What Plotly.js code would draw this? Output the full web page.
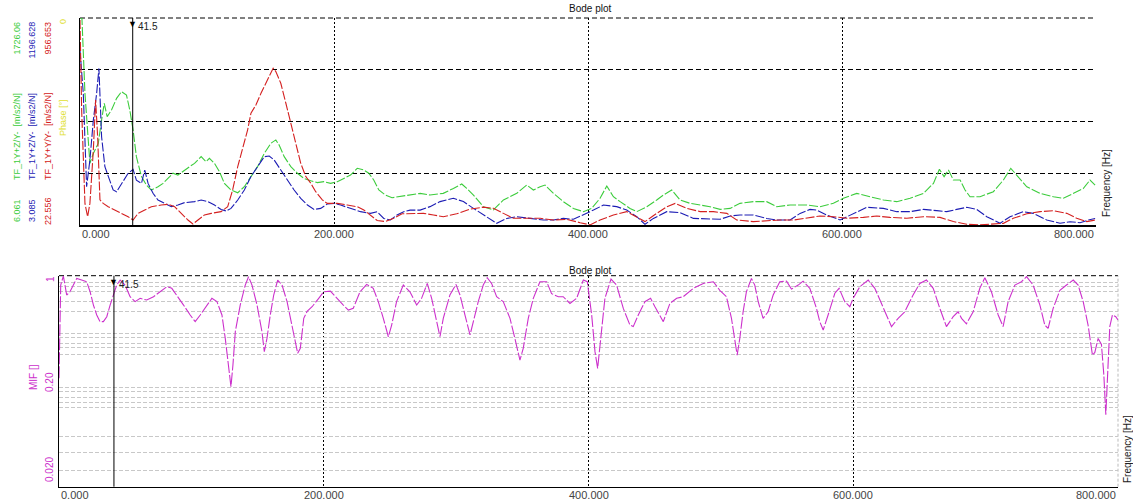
<!DOCTYPE html>
<html>
<head>
<meta charset="utf-8">
<script src="https://cdn.plot.ly/plotly-3.0.1.min.js"></script>
<style>html,body{margin:0;padding:0;background:#fff;}#chart{width:1133px;height:504px;}</style>
</head>
<body>
<div id="chart"></div>
<script>
// ---------- data ----------
const chartTitle = 'Bode plot';
const xTickVals = [0, 200, 400, 600, 800];
const xTickText = ['0.000', '200.000', '400.000', '600.000', '800.000'];
const xTitle = 'Frequency [Hz]';
const cursorHz = 41.5;

const greenName = 'TF_1Y+Z/Y-  [m/s2/N]';
const blueName = 'TF_1Y+Z/Y-  [m/s2/N]';
const redName = 'TF_1Y+Y/Y-  [m/s2/N]';
const phaseName = 'Phase [°]';
const greenRange = [6.061, 1726.06];
const blueRange = [3.085, 1196.628];
const redRange = [22.556, 956.653];
const greenRangeText = ['6.061', '1726.06'];
const blueRangeText = ['3.085', '1196.628'];
const redRangeText = ['22.556', '956.653'];

const freqGreen = [0,1.5,3.9,7.8,10.5,14.4,17.0,19.1,21.4,24.8,28.8,32.7,36.6,39.2,41.8,44.4,48.4,52.3,56.2,61.4,65.4,69.3,73.2,77.1,82.3,86.3,90.2,95.4,99.3,101.9,105.9,109.8,113.7,118.9,124.2,129.4,134.6,139.8,145.1,150.3,154.2,156.8,160.8,166.0,171.2,176.4,181.7,186.9,192.1,197.4,202.6,207.8,213.0,218.3,223.5,227.4,231.3,235.3,240.5,245.7,250.9,
  259.9,267.8,275.6,286,294,300.6,304.5,309.8,317.6,325.5,333.4,343.9,351.8,357,362.3,366.2,372.8,380.6,388.5,396.4,402.9,409.5,414.8,420,425.3,433.1,438.4,446.3,454.1,459.4,465.9,472.5,480.4,488.3,496.1,504,511.9,
  519.7,530.2,540.7,548.6,559.1,572.2,582.7,593.2,601.1,611.6,622.1,632.6,643.1,653.6,664.1,672,676.7,680.4,683.8,687.7,693,696.9,700.8,708.7,719.2,727.1,732.9,737.6,745.5,756,766.5,774.3,782.2,790.1,795.3,799.3];
const tfGreen = [1726,1726,1100,518,601,685,878,1017,906,962,1058,1114,1086,962,796,574,408,338,297,324,352,393,436,421,463,491,518,574,532,560,518,449,352,297,274,324,408,491,601,685,713,670,574,491,436,393,374,358,366,352,366,393,421,477,463,436,380,297,255,233,241,
  255,269,255,269,310,347,310,255,158,131,214,269,338,297,324,338,269,200,144,117,144,228,330,241,200,144,117,158,214,255,297,214,186,172,158,136,144,
  186,200,200,158,172,172,158,186,228,269,241,214,200,228,269,352,469,408,463,380,380,297,241,241,283,380,477,421,324,269,241,228,269,310,380,338];

const freqBlue = [0,2.6,5.2,7.8,10.5,13.1,14.9,17.0,19.6,22.2,26.1,28.8,32.7,37.9,41.8,44.4,48.4,51.0,53.6,57.5,61.4,66.7,71.9,77.1,82.3,90.2,95.4,100.6,105.9,111.1,115.0,118.9,124.2,129.4,134.6,139.8,145.1,149.0,152.9,158.1,163.4,168.6,173.8,179.1,184.3,189.5,194.7,200.0,205.2,213.0,220.9,228.7,234.0,239.2,244.4,249.6,254.9,
  259.9,267.8,275.6,283.5,294,301.9,309.8,320.3,328.1,336,343.9,354.4,364.9,372.8,380.6,388.5,396.4,404.3,412.1,422.6,430.5,438.4,444.9,451.5,462,472.5,483,496.1,504,512,
  519.7,530.2,540.7,548.6,559.1,567,574.8,580.1,588,598.5,609,619.5,632.6,643.1,653.6,664.1,674.6,682.5,690.3,698.2,706.1,714,724.5,732.3,742.8,750.7,761.2,771.7,779.6,787.5,794,799.3];
const tfBlue = [1012,762,224,378,608,762,906,512,339,282,205,195,243,301,324,262,243,320,243,186,147,128,109,118,132,138,147,138,118,93,84,99,147,205,282,339,397,401,378,320,262,205,157,118,93,99,124,128,118,99,80,70,80,41,32,61,80,
  89,89,109,138,157,138,99,51,13,41,51,41,32,32,41,36,61,89,118,109,89,51,7,41,80,74,41,36,36,55,
  61,61,41,32,32,70,93,89,61,32,70,105,99,80,80,93,86,80,93,105,93,51,13,51,80,70,32,13,22,16,32,41];

const freqRed = [0,1.3,3.9,6.0,7.8,10.5,12.3,13.9,15.7,18.3,22.2,27.4,32.7,37.9,41.8,45.7,51.0,56.2,64.0,69.3,74.5,79.7,85.0,88.9,92.8,98.0,103.3,111.1,116.3,120.2,124.2,128.1,132.0,134.6,138.5,142.5,146.4,150.3,152.1,154.2,158.1,162.1,166.0,169.9,173.8,177.8,181.7,185.6,190.8,194.7,202.6,210.4,218.3,223.5,228.7,234.0,240.5,247.0,253.6,
  259.9,270.4,278.3,286.1,296.6,307.1,317.6,325.5,333.4,341.3,351.8,362.3,372.8,383.3,393.8,401.6,409.5,420,430.5,438.4,444.9,454.1,462,468.6,477.8,488.3,498.8,509.3,517.1,
  530.2,540.7,551.2,561.7,572.2,582.7,593.2,603.7,616.8,627.3,637.8,651,664.1,677.2,687.7,698.2,708.7,719.2,727.1,734.9,745.5,756,766.5,777,784.8,792.7,799.3];
const tfRed = [948,542,120,60,120,361,587,421,136,120,105,90,75,60,45,75,90,105,113,116,105,75,45,27,45,68,75,83,105,181,286,376,452,527,564,617,662,707,730,715,662,572,482,391,301,241,211,173,136,120,120,113,105,90,68,43,38,53,73,
  75,75,68,60,73,94,103,98,75,53,53,53,45,48,33,23,45,68,83,60,38,75,105,120,98,83,83,75,45,
  38,43,45,45,53,63,60,53,57,63,57,53,60,57,38,26,23,26,30,53,73,83,87,75,53,38,45];

const mifName = 'MIF []';
const mifTickText = ['1', '0.20', '0.020'];
const mifRange = [0.04, 1];
const mifMinorGrid = [0.908,0.842,0.780,0.670,0.575,0.417,0.387,0.358,0.332,0.2985,0.183,0.170,0.157,0.1455,0.133,0.0855,0.0669,0.0516];
const mifMajorGrid = [0.457];

const freqMif = [0,0.5,1.3,3.3,5.8,8.3,10.8,13.4,17.1,20.9,23.5,26.0,28.5,31.0,33.5,36.1,38.6,41.1,43.6,46.2,49.9,53.7,57.5,61.3,66.3,71.4,76.4,81.5,85.2,89.0,94.1,99.1,102.9,106.7,111.7,115.5,119.3,123.1,125.6,128.1,129.9,131.4,133.2,136.9,140.7,143.2,145.8,149.6,153.3,155.1,157.1,159.6,162.2,165.2,168.5,172.3,176.0,178.6,180.3,182.3,184.9,187.4,191.2,196.2,200.0,205.0,
  209.7,214.8,218.6,222.3,227.4,232.4,237.4,241.2,245,248.8,251.3,255,260.1,265.1,270.2,273.9,278.2,281.5,284.8,287.8,290.3,295.3,299.9,302.9,306.7,310.5,313,316.7,320.5,323.5,326.8,330.6,335.6,340.7,344.4,348.2,350.7,354.5,358.3,363.3,368.4,372.1,377.2,380.9,386,391,396.1,399.1,402.4,404.9,406.9,409.2,412.4,417,421.2,426.3,431.3,433.8,437.6,442.6,446.9,450.2,453.9,456.5,461.5,466.6,471.6,479.2,486.7,494.3,
  499.2,504.2,508,510.5,512.3,514.3,516.8,519.3,523.1,525.6,528.2,531.9,535.7,539.5,544.5,549.6,553.3,558.4,562.1,567.2,572.2,574.7,577.3,581,586.1,589.3,593.6,597.4,599.9,605,611.3,616.3,622.6,628.9,633.9,638.9,645.2,650.3,655.3,660.4,665.4,670.4,675.5,679.2,681.8,685.5,690.6,695.6,699.4,704.4,709.5,713.2,717,722.1,727.1,730.9,735.9,741,744.7,747.2,751,756.1,761.1,766.2,769.9,773.7,777.4,780.7,782.5,785,787.5,789.3,790.8,791.8,792.5,793.8,795.8,798.3,800];
const mif = [0.209,0.549,0.867,0.995,0.745,0.783,0.867,0.960,0.936,0.912,0.783,0.639,0.549,0.496,0.496,0.535,0.639,0.745,0.867,0.936,0.867,0.726,0.673,0.708,0.690,0.726,0.783,0.846,0.825,0.745,0.639,0.549,0.496,0.549,0.639,0.708,0.673,0.549,0.384,0.256,0.184,0.256,0.426,0.639,0.867,0.985,0.867,0.639,0.426,0.314,0.384,0.549,0.745,0.936,0.867,0.673,0.471,0.347,0.306,0.33,0.522,0.58,0.623,0.708,0.783,0.79,
  0.708,0.639,0.592,0.608,0.783,0.876,0.825,0.673,0.522,0.394,0.471,0.673,0.867,0.783,0.639,0.708,0.889,0.708,0.522,0.394,0.522,0.745,0.876,0.745,0.549,0.405,0.496,0.673,0.867,0.97,0.889,0.726,0.673,0.522,0.384,0.276,0.330,0.522,0.708,0.912,0.912,0.76,0.726,0.726,0.655,0.708,0.936,0.912,0.549,0.314,0.243,0.384,0.708,0.95,0.867,0.607,0.471,0.46,0.549,0.673,0.708,0.623,0.549,0.496,0.655,0.708,0.726,0.825,0.889,0.912,
  0.80,0.726,0.522,0.384,0.298,0.384,0.577,0.783,0.96,0.867,0.673,0.522,0.577,0.745,0.912,0.92,0.815,0.867,0.92,0.825,0.608,0.496,0.437,0.549,0.765,0.825,0.673,0.623,0.708,0.846,0.936,0.825,0.608,0.46,0.522,0.577,0.745,0.889,0.936,0.825,0.608,0.46,0.535,0.577,0.522,0.48,0.577,0.825,0.97,0.783,0.549,0.46,0.673,0.867,0.912,0.985,0.867,0.639,0.471,0.448,0.608,0.80,0.867,0.936,0.867,0.673,0.471,0.298,0.31,0.384,0.35,0.22,0.12,0.2,0.314,0.46,0.549,0.535,0.51];

// ---------- styling ----------
const W = 1133, H = 504;
const px = v => v / W;
const py = v => (H - v) / H;
const FONT = 'Liberation Sans, Arial, sans-serif';
const GREEN = '#3ccc3c', BLUE = '#1c1cb4', RED = '#d42020', YELLOW = '#e0e030', MAG = '#cc30cc';
const topDomX = [px(80), px(1096)], topDomY = [py(225), py(18)];
const botDomX = [px(59), px(1118)], botDomY = [py(486.7), py(275.7)];

function quarters(r) { const s = (r[1] - r[0]) / 4; return [r[0] + s, r[0] + 2 * s, r[0] + 3 * s]; }

const lineStyle = (c) => ({ color: c, width: 1.1, dash: '9px,2px' });

const traces = [
  { x: freqGreen, y: tfGreen, xaxis: 'x', yaxis: 'y', type: 'scatter', mode: 'lines', line: lineStyle(GREEN), name: greenName },
  { x: freqBlue, y: tfBlue, xaxis: 'x', yaxis: 'y2', type: 'scatter', mode: 'lines', line: lineStyle(BLUE), name: blueName },
  { x: freqRed, y: tfRed, xaxis: 'x', yaxis: 'y3', type: 'scatter', mode: 'lines', line: lineStyle(RED), name: redName },
  { x: freqMif, y: mif, xaxis: 'x2', yaxis: 'y4', type: 'scatter', mode: 'lines', line: { color: MAG, width: 1.1, dash: '12px,2px' }, name: mifName }
];

const annotations = [];
function ann(o) { annotations.push(Object.assign({ showarrow: false, xref: 'paper', yref: 'paper', xanchor: 'center', yanchor: 'middle' }, o)); }

// titles
ann({ x: px(590), y: py(8), text: chartTitle, font: { family: FONT, size: 10, color: '#111' } });
ann({ x: px(590), y: py(270), text: chartTitle, font: { family: FONT, size: 10, color: '#111' } });

// x tick labels
function xLabels(x0, x1, yPix) {
  xTickVals.forEach((v, i) => {
    const frac = (v - xTickVals[0]) / (xTickVals[xTickVals.length - 1] - xTickVals[0]);
    const xp = x0 + frac * (x1 - x0);
    ann({ x: px(xp), y: py(yPix), text: xTickText[i], xanchor: i === 0 ? 'left' : (i === xTickVals.length - 1 ? 'right' : 'center'), font: { family: FONT, size: 11, color: '#444' } });
  });
}
xLabels(80, 1096, 234);
xLabels(59, 1118, 495);

// x axis titles (rotated)
ann({ x: px(1106), y: py(183), text: xTitle, textangle: -90, font: { family: FONT, size: 10, color: '#222' } });
ann({ x: px(1127), y: py(449), text: xTitle, textangle: -90, font: { family: FONT, size: 10, color: '#222' } });

// top left axis labels (rotated)
const lf = (c) => ({ family: FONT, size: 9, color: c });
[[17, GREEN, greenRangeText, greenName], [32, BLUE, blueRangeText, blueName], [48, RED, redRangeText, redName]].forEach(([xx, c, rt, nm]) => {
  ann({ x: px(xx), y: py(211), text: rt[0], textangle: -90, font: lf(c) });
  ann({ x: px(xx), y: py(137), text: nm, textangle: -90, font: lf(c) });
  ann({ x: px(xx), y: py(20), text: rt[1], textangle: -90, yanchor: 'top', font: lf(c) });
});
ann({ x: px(63), y: py(118), text: phaseName, textangle: -90, font: lf(YELLOW) });
ann({ x: px(63), y: py(22), text: '0', textangle: -90, font: lf(YELLOW) });

// bottom left axis labels
ann({ x: px(50), y: py(279), text: mifTickText[0], textangle: -90, font: { family: FONT, size: 10, color: MAG } });
ann({ x: px(49), y: py(382), text: mifTickText[1], textangle: -90, font: { family: FONT, size: 10, color: MAG } });
ann({ x: px(49), y: py(470), text: mifTickText[2], textangle: -90, font: { family: FONT, size: 10, color: MAG } });
ann({ x: px(33), y: py(377), text: mifName, textangle: -90, font: { family: FONT, size: 10, color: MAG } });

// cursors
[['x', 'y'], ['x2', 'y4']].forEach(([xa, ya]) => {
  annotations.push({ x: cursorHz, xref: xa, y: 1, yref: ya + ' domain', text: '▼', showarrow: false, yanchor: 'top', xanchor: 'center', yshift: 3, font: { size: 9, color: '#000' } });
  annotations.push({ x: cursorHz, xref: xa, y: 1, yref: ya + ' domain', text: String(cursorHz), showarrow: false, yanchor: 'top', xanchor: 'left', xshift: 3, yshift: -1, font: { family: FONT, size: 10, color: '#222' } });
});

const dashBlack = { color: '#000', width: 1, dash: '5px,3px' };
const shapes = [
  { type: 'line', xref: 'x', yref: 'y domain', x0: cursorHz, x1: cursorHz, y0: 0, y1: 1, line: { color: '#000', width: 1 } },
  { type: 'line', xref: 'x2', yref: 'y4 domain', x0: cursorHz, x1: cursorHz, y0: 0, y1: 1, line: { color: '#000', width: 1 } },
  { type: 'line', xref: 'x domain', yref: 'y domain', x0: 0, x1: 1, y0: 1, y1: 1, layer: 'below', line: dashBlack },
  { type: 'line', xref: 'x2 domain', yref: 'y4 domain', x0: 0, x1: 1, y0: 1, y1: 1, layer: 'below', line: dashBlack },
  { type: 'line', xref: 'x2 domain', yref: 'y4 domain', x0: 1, x1: 1, y0: 0, y1: 1, layer: 'below', line: { color: '#bbb', width: 1, dash: '3px,2px' } }
];
mifMajorGrid.forEach(v => shapes.push({ type: 'line', xref: 'x2 domain', yref: 'y4', x0: 0, x1: 1, y0: Math.log10(v), y1: Math.log10(v), layer: 'below', line: dashBlack }));

const xBase = { range: [xTickVals[0], xTickVals[xTickVals.length - 1]], tickmode: 'array', tickvals: xTickVals.slice(1, -1), showticklabels: false, ticks: '', showgrid: true, gridcolor: '#000', griddash: '2px,2px', gridwidth: 1, zeroline: false, showline: true, linecolor: '#000', linewidth: 1.5, fixedrange: true };

const layout = {
  width: W, height: H, margin: { l: 0, r: 0, t: 0, b: 0 },
  paper_bgcolor: '#fff', plot_bgcolor: '#fff', showlegend: false,
  xaxis: Object.assign({}, xBase, { domain: topDomX, anchor: 'y' }),
  yaxis: { domain: topDomY, range: greenRange, anchor: 'x', tickmode: 'array', tickvals: quarters(greenRange), showticklabels: false, ticks: '', showgrid: true, gridcolor: '#000', griddash: '5px,3px', zeroline: false, showline: true, linecolor: '#000', linewidth: 1.5 },
  yaxis2: { overlaying: 'y', range: blueRange, visible: false, showgrid: false, zeroline: false },
  yaxis3: { overlaying: 'y', range: redRange, visible: false, showgrid: false, zeroline: false },
  xaxis2: Object.assign({}, xBase, { domain: botDomX, anchor: 'y4' }),
  yaxis4: { domain: botDomY, type: 'log', range: [Math.log10(mifRange[0]), Math.log10(mifRange[1])], anchor: 'x2', tickmode: 'array', tickvals: mifMinorGrid, showticklabels: false, ticks: '', showgrid: true, gridcolor: '#c8c8c8', griddash: '4px,2px', zeroline: false, showline: true, linecolor: '#000', linewidth: 1.5 },
  annotations: annotations,
  shapes: shapes
};

Plotly.newPlot('chart', traces, layout, { staticPlot: true, displayModeBar: false });
</script>
</body>
</html>
